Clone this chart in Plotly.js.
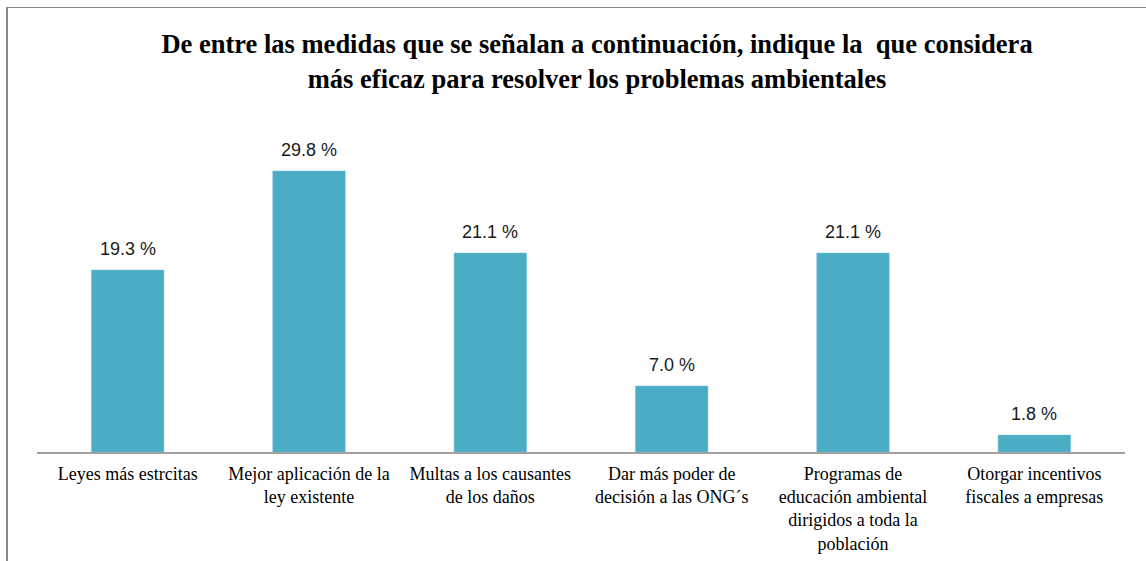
<!DOCTYPE html>
<html>
<head>
<meta charset="utf-8">
<script src="https://cdn.plot.ly/plotly-3.0.1.min.js"></script>
<style>
html,body{margin:0;padding:0;background:#fff;}
#wrap{position:relative;width:1146px;height:561px;overflow:hidden;}
#chart{width:1146px;height:561px;}
#frame{position:absolute;left:6px;top:7px;width:1200px;height:700px;border-left:2px solid #8a8a8a;border-top:1px solid #8a8a8a;pointer-events:none;}
</style>
</head>
<body>
<div id="wrap"><div id="chart"></div><div id="frame"></div></div>
<script>
const categories = [
  "Leyes más estrcitas",
  "Mejor aplicación de la<br>ley existente",
  "Multas a los causantes<br>de los daños",
  "Dar más poder de<br>decisión a las ONG´s",
  "Programas de<br>educación ambiental<br>dirigidos a toda la<br>población",
  "Otorgar incentivos<br>fiscales a empresas"
];
const values = [19.3, 29.8, 21.1, 7.0, 21.1, 1.8];
const valueLabels = values.map(v => v.toFixed(1) + " %");
const titleText = "<b>De entre las medidas que se señalan a continuación, indique la\u00a0 que considera<br>más eficaz para resolver los problemas ambientales</b>";

const SERIF = "'Liberation Serif', 'Times New Roman', serif";
const SANS = "'Liberation Sans', Arial, sans-serif";

const trace = {
  type: "bar",
  x: categories,
  y: values,
  marker: {color: "#4BACC6", line: {color: "#7cc3d6", width: 0.5}},
  hoverinfo: "x+y"
};

const annotations = values.map((v, i) => ({
  x: categories[i], y: v, xref: "x", yref: "y",
  text: valueLabels[i], showarrow: false,
  yanchor: "bottom", yshift: 9,
  font: {family: SANS, size: 18, color: "#1a1a1a"}
}));

const layout = {
  width: 1146, height: 561,
  margin: {l: 37, r: 21, t: 120, b: 109, pad: 0},
  paper_bgcolor: "#ffffff", plot_bgcolor: "#ffffff",
  title: {
    text: titleText,
    font: {family: SERIF, size: 26.5, color: "#000"},
    x: 0.521, xanchor: "center", y: 0.905, yanchor: "top"
  },
  bargap: 0.6,
  showlegend: false,
  xaxis: {
    type: "category",
    showline: true, linecolor: "#a0a0a0", linewidth: 2,
    ticks: "", showgrid: false, zeroline: false,
    tickfont: {family: SERIF, size: 18, color: "#000"},
    ticklabelstandoff: 4
  },
  yaxis: {
    range: [0, 35.2], visible: false, showgrid: false, zeroline: false
  },
  annotations: annotations
};

Plotly.newPlot("chart", [trace], layout, {displayModeBar: false, staticPlot: true});
</script>
</body>
</html>
